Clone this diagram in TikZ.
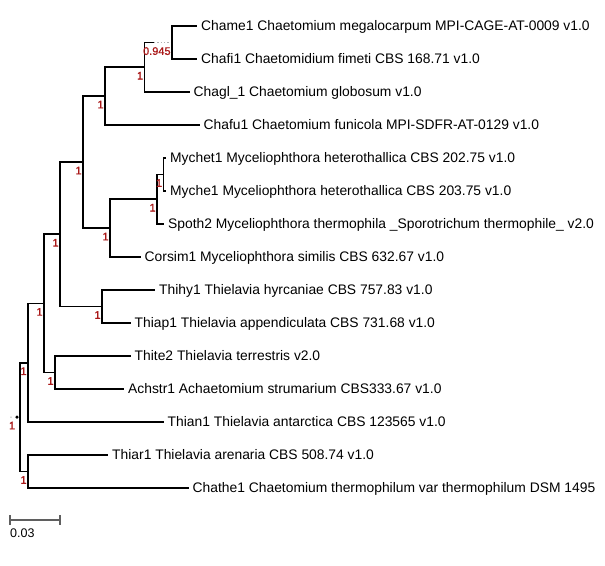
\documentclass[tikz,border=0pt]{standalone}
\usepackage{fontspec}
\setmainfont{Liberation Sans}
\newfontfamily\supportfont[FakeBold=1.2]{Liberation Sans}
\definecolor{supportred}{RGB}{170,25,25}
\definecolor{scalegray}{RGB}{95,95,95}

\begin{document}
\begin{tikzpicture}[x=1pt, y=-1pt]
                % Define styles
                \tikzstyle{leaf_label} = [font=\fontsize{13.85}{16}\selectfont, anchor=west, inner xsep=4pt, inner ysep=0pt, text height=9.9pt, text depth=0pt]
                \tikzstyle{support_label} = [font=\supportfont\fontsize{11}{13}\selectfont, text=supportred, anchor=north east, inner xsep=1.2pt, inner ysep=0pt, yshift=-4.5pt]
                \tikzstyle{branch} = [draw, black, line width=1.7pt]
                \tikzstyle{guide} = [draw, gray!60, dotted, line width=1.3pt]
                \tikzstyle{root_dot} = [circle, fill=black, inner sep=0pt, minimum size=3.6pt]

                \useasboundingbox (0,0) rectangle (605,565);

                % Leaves
                \node [leaf_label] (chame1) at (197,26) {Chame1 Chaetomium megalocarpum MPI-CAGE-AT-0009 v1.0};
                \node [leaf_label] (chafi1) at (197,59) {Chafi1 Chaetomidium fimeti CBS 168.71 v1.0};
                \node [leaf_label] (chagl_1) at (189.5,92) {Chagl\_1 Chaetomium globosum v1.0};
                \node [leaf_label] (chafu1) at (199.5,125) {Chafu1 Chaetomium funicola MPI-SDFR-AT-0129 v1.0};
                \node [leaf_label] (mychet1) at (166,158) {Mychet1 Myceliophthora heterothallica CBS 202.75 v1.0};
                \node [leaf_label] (myche1) at (166,191) {Myche1 Myceliophthora heterothallica CBS 203.75 v1.0};
                \node [leaf_label] (spoth2) at (164,224) {Spoth2 Myceliophthora thermophila \_Sporotrichum thermophile\_ v2.0};
                \node [leaf_label] (corsim1) at (140.5,257) {Corsim1 Myceliophthora similis CBS 632.67 v1.0};
                \node [leaf_label] (thihy1) at (155,290) {Thihy1 Thielavia hyrcaniae CBS 757.83 v1.0};
                \node [leaf_label] (thiap1) at (130.5,323) {Thiap1 Thielavia appendiculata CBS 731.68 v1.0};
                \node [leaf_label] (thite2) at (130.5,356) {Thite2 Thielavia terrestris v2.0};
                \node [leaf_label] (achstr1) at (124,389) {Achstr1 Achaetomium strumarium CBS333.67 v1.0};
                \node [leaf_label] (thian1) at (163.5,422) {Thian1 Thielavia antarctica CBS 123565 v1.0};
                \node [leaf_label] (thiar1) at (108,455) {Thiar1 Thielavia arenaria CBS 508.74 v1.0};
                \node [leaf_label] (chathe1) at (188.5,488) {Chathe1 Chaetomium thermophilum var thermophilum DSM 1495};

                % Inner nodes
                \coordinate (node_a) at (172,42.5);
                \coordinate (node_a_end) at (154,42.5);
                \coordinate (node_b) at (144.5,67.25);
                \coordinate (node_c) at (105,96.1);
                \coordinate (node_d) at (163.5,174.5);
                \coordinate (node_e) at (157,199.25);
                \coordinate (node_f) at (110,228.1);
                \coordinate (node_g) at (83,162.1);
                \coordinate (node_h) at (102,306.5);
                \coordinate (node_i) at (60,234.3);
                \coordinate (node_j) at (55,372.5);
                \coordinate (node_k) at (44,303.4);
                \coordinate (node_l) at (28,362.7);
                \coordinate (node_m) at (28,471.5);
                \coordinate (root) at (20,417.1);
                \coordinate (root_stub) at (11,417.1);

                % Lines
                \path [branch] (root) |- (node_l);
                \path [branch] (root) |- (node_m);

                \path [branch] (node_l) |- (node_k);
                \path [branch] (node_l) |- (thian1.west);
                \path [branch] (node_m) |- (thiar1.west);
                \path [branch] (node_m) |- (chathe1.west);

                \path [branch] (node_k) |- (node_i);
                \path [branch] (node_k) |- (node_j);
                \path [branch] (node_j) |- (thite2.west);
                \path [branch] (node_j) |- (achstr1.west);

                \path [branch] (node_i) |- (node_g);
                \path [branch] (node_i) |- (node_h);
                \path [branch] (node_h) |- (thihy1.west);
                \path [branch] (node_h) |- (thiap1.west);

                \path [branch] (node_g) |- (node_c);
                \path [branch] (node_g) |- (node_f);
                \path [branch] (node_f) |- (node_e);
                \path [branch] (node_f) |- (corsim1.west);
                \path [branch] (node_e) |- (node_d);
                \path [branch] (node_e) |- (spoth2.west);
                \path [branch] (node_d) |- (mychet1.west);
                \path [branch] (node_d) |- (myche1.west);

                \path [branch] (node_c) |- (node_b);
                \path [branch] (node_c) |- (chafu1.west);
                \path [branch] (node_b) |- (node_a_end);
                \path [guide] (node_a_end) -- (node_a);
                \path [branch] (node_b) |- (chagl_1.west);
                \path [branch] (node_a) |- (chame1.west);
                \path [branch] (node_a) |- (chafi1.west);

                % Root mark
                \node [root_dot] (root_mark) at (17,417.1) {};
                \fill [gray!60] (root_stub) circle (0.8pt);

                % Support values
                \node [support_label] (sup_a) at (node_a) {0.945};
                \node [support_label] (sup_b) at (node_b) {1};
                \node [support_label] (sup_c) at (node_c) {1};
                \node [support_label] (sup_d) at (node_d) {1};
                \node [support_label] (sup_e) at (node_e) {1};
                \node [support_label] (sup_f) at (node_f) {1};
                \node [support_label] (sup_g) at (node_g) {1};
                \node [support_label] (sup_h) at (node_h) {1};
                \node [support_label] (sup_i) at (node_i) {1};
                \node [support_label] (sup_j) at (node_j) {1};
                \node [support_label] (sup_k) at (node_k) {1};
                \node [support_label] (sup_l) at (node_l) {1};
                \node [support_label] (sup_m) at (node_m) {1};
                \node [support_label, xshift=-0.5pt] (sup_root) at (root_mark) {1};

                % Scale bar
                \draw [scalegray, line width=1.5pt] (10,520) -- (60,520);
                \draw [scalegray, line width=1.5pt] (10,515) -- (10,525);
                \draw [scalegray, line width=1.5pt] (60,515) -- (60,525);
                \node [font=\fontsize{12.5}{14}\selectfont, anchor=north west, inner sep=0pt] (scale_text) at (10,528.5) {0.03};
            \end{tikzpicture}
\end{document}
